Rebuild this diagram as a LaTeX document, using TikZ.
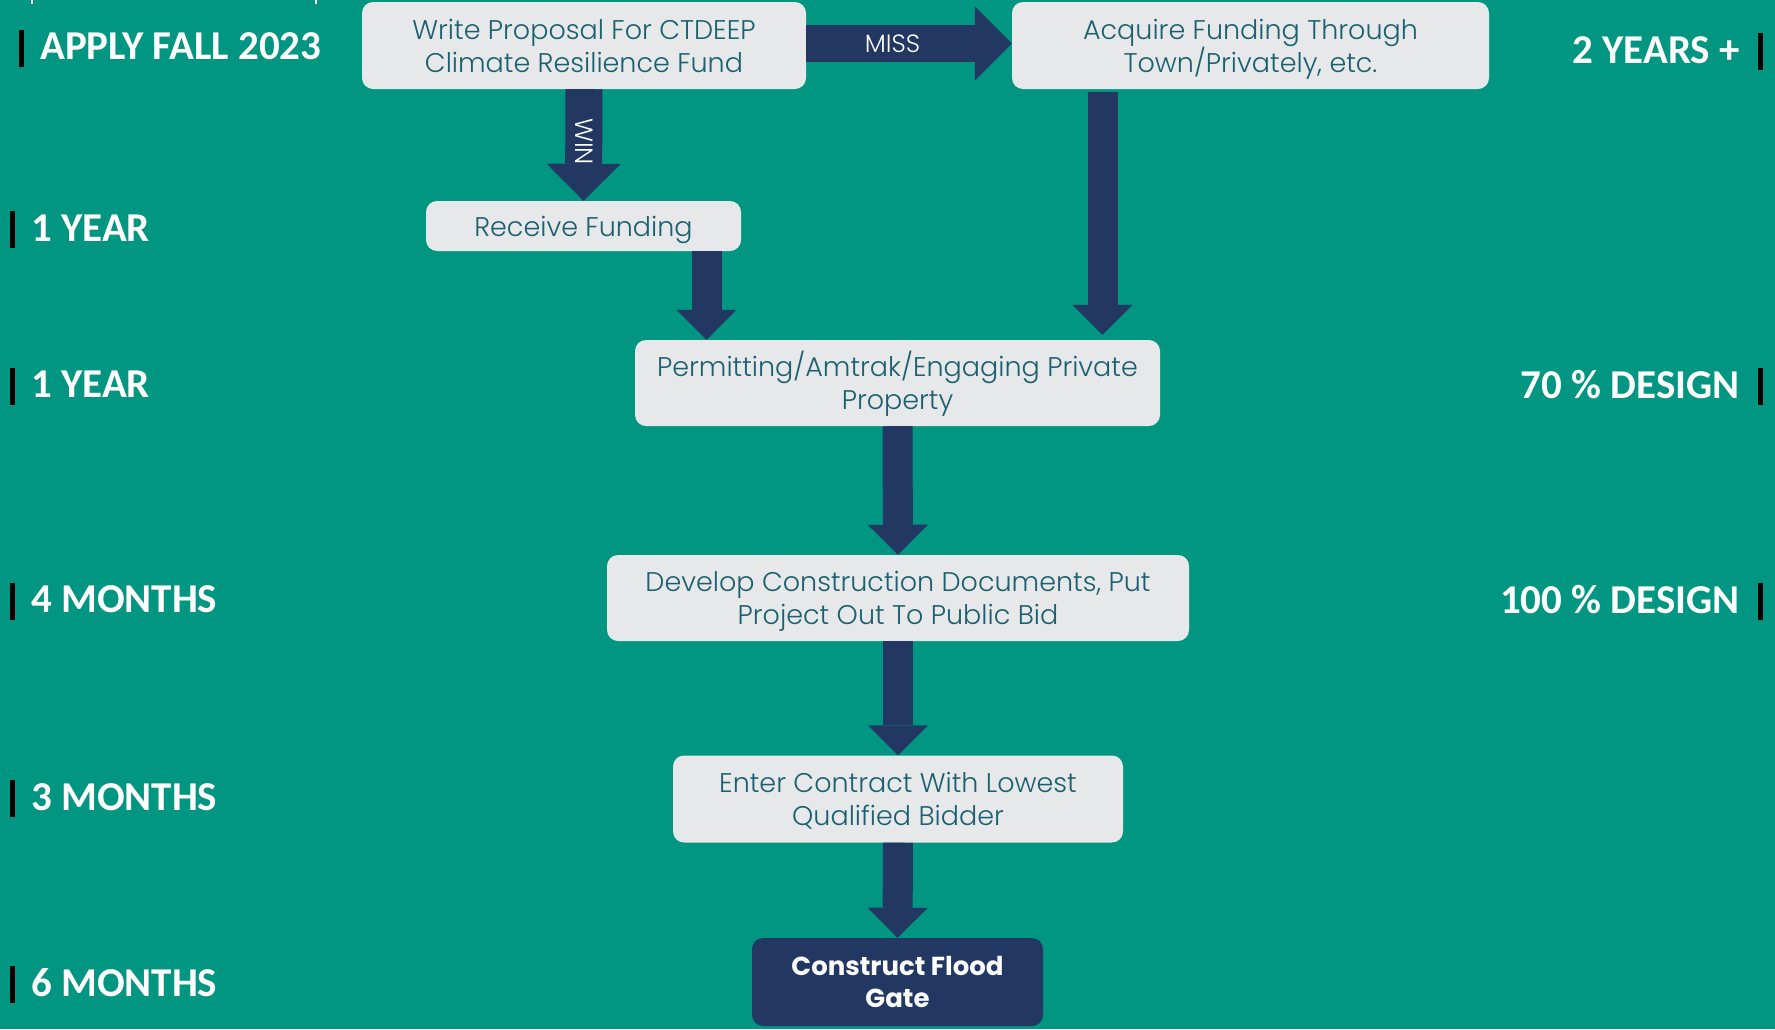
\documentclass[tikz,border=0pt]{standalone}
\usepackage{fontspec}
\setmainfont{Poppins}
\IfFontExistsTF{Poppins Light}{\newfontfamily\boxfont{Poppins Light}}{\newfontfamily\boxfont{Poppins}}
\newfontfamily\lblfont{Carlito}
\usetikzlibrary{arrows.meta, positioning}

\definecolor{bgteal}{RGB}{0,150,130}
\definecolor{boxgray}{RGB}{231,232,234}
\definecolor{boxtext}{RGB}{26,96,112}
\definecolor{navy}{RGB}{34,56,99}

\begin{document}
\begin{tikzpicture}[x=1pt, y=-1pt,
  stepbox/.style={fill=boxgray, rounded corners=11pt, align=center, text=boxtext,
    font=\boxfont\fontsize{27}{33}\selectfont, inner sep=0pt, text depth=0pt},
  flow/.style={navy, line width=30pt, -{Triangle[length=30pt,width=60pt,line width=0pt]}},
  bigflow/.style={navy, line width=37pt, -{Triangle[length=37pt,width=74pt,line width=0pt]}},
  flowlbl/.style={text=white, font=\boxfont\fontsize{25}{25}\selectfont, inner sep=0pt},
  timelbl/.style={text=white, font=\lblfont\bfseries\fontsize{41}{41}\selectfont, inner sep=0pt},
  bar/.style={black, line width=5pt}]

	% Fundo
	\fill[bgteal] (0,0) rectangle (1775,1029);
	\useasboundingbox (0,0) rectangle (1775,1029);
	\draw[white, line width=1.5pt] (32,0) -- (32,4);
	\draw[white, line width=1.5pt] (316,0) -- (316,4);

	% Caixas do fluxo
	\node[stepbox, minimum width=444pt, minimum height=87pt] (prop) at (584,45.5)
		{Write Proposal For CTDEEP\\Climate Resilience Fund};
	\node[stepbox, minimum width=477pt, minimum height=87pt] (acq) at (1250.5,45.5)
		{Acquire Funding Through\\Town/Privately, etc.};
	\node[stepbox, minimum width=315pt, minimum height=50pt] (recv) at (583.5,226)
		{Receive Funding};
	\node[stepbox, minimum width=525pt, minimum height=86pt] (permit) at (897.5,383)
		{Permitting\smash{/}Amtrak\smash{/}Engaging Private\\Property};
	\node[stepbox, minimum width=582pt, minimum height=86pt] (develop) at (898,598)
		{Develop Construction Documents, Put\\Project Out To Public Bid};
	\node[stepbox, minimum width=450pt, minimum height=87pt] (enter) at (898,799)
		{Enter Contract With Lowest\\Qualified Bidder};
	\node[stepbox, fill=navy, text=white, font=\bfseries\fontsize{26}{32}\selectfont,
		minimum width=291pt, minimum height=88pt] (build) at (897.5,982)
		{Construct Flood\\Gate};

	% Setas
	\coordinate (rx) at (706.5,0);
	\coordinate (ax) at (1102.5,0);
	\draw[bigflow] ([yshift=2pt]prop.east) -- ([yshift=2pt]acq.west)
		node[flowlbl, pos=0.42] {MISS};
	\draw[bigflow] (prop.south) -- (recv.north)
		node[flowlbl, pos=0.47, rotate=-90] {WIN};
	\draw[flow] (recv.south -| rx) -- (permit.north -| rx);
	\draw[flow, shorten <=3pt, shorten >=5pt] (acq.south -| ax) -- (permit.north -| ax);
	\draw[flow] (permit.south) -- (develop.north);
	\draw[flow] (develop.south) -- (enter.north);
	\draw[flow] (enter.south) -- (build.north);

	% Prazos (esquerda)
	\node[timelbl, anchor=west] (apply) at (40,46.5) {APPLY FALL 2023};
	\draw[bar] ([xshift=-19pt,yshift=17pt]apply.west) -- ([xshift=-19pt,yshift=-20pt]apply.west);
	\foreach \nm/\yy/\txt in {yr1/228/1 YEAR, yr2/384.5/1 YEAR, mo4/599.5/4 MONTHS,
		mo3/797/3 MONTHS, mo6/983/6 MONTHS} {
		\node[timelbl, anchor=west] (\nm) at (31,\yy) {\txt};
		\draw[bar] ([xshift=-19pt,yshift=17pt]\nm.west) -- ([xshift=-19pt,yshift=-20pt]\nm.west);
	}

	% Fases (direita)
	\foreach \nm/\yy/\txt in {yrs2/50/2 YEARS +, des70/384.5/70 \% DESIGN, des100/599.5/100 \% DESIGN} {
		\node[timelbl, anchor=east] (\nm) at (1740,\yy) {\txt};
		\draw[bar] ([xshift=20pt,yshift=17pt]\nm.east) -- ([xshift=20pt,yshift=-20pt]\nm.east);
	}

\end{tikzpicture}
\end{document}
